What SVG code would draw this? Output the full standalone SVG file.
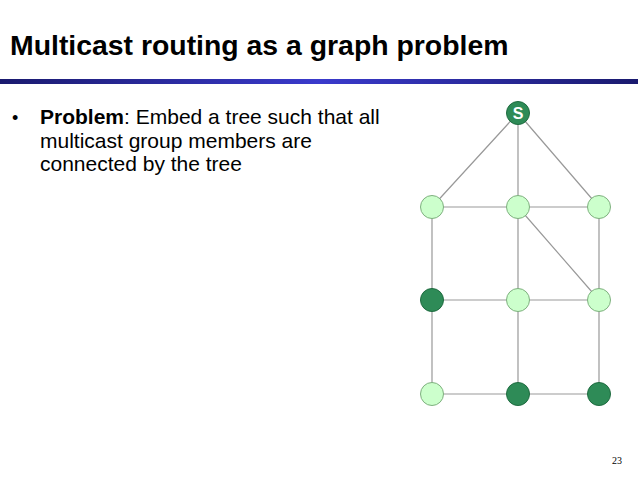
<svg xmlns="http://www.w3.org/2000/svg" width="638" height="478" viewBox="0 0 638 478">
<defs>
<linearGradient id="bar" x1="0" x2="1" y1="0" y2="0">
<stop offset="0" stop-color="#1a1a6e"/><stop offset="0.5" stop-color="#3a3acc"/><stop offset="1" stop-color="#1a1a6e"/>
</linearGradient>
<style>
.e{stroke:#999;stroke-width:1.2;fill:none}
.l{fill:#ccffcc;stroke:#7fb07f;stroke-width:1}
.d{fill:#2e8b57;stroke:#1f6b40;stroke-width:1}
.t{font-family:"Liberation Sans",Arial,sans-serif}
</style>
</defs>
<rect width="638" height="478" fill="#fff"/>
<text class="t" x="10" y="55" font-size="28.4" font-weight="bold">Multicast routing as a graph problem</text>
<rect x="0" y="79" width="638" height="5" fill="url(#bar)"/>
<text class="t" x="12" y="124" font-size="18">•</text>
<text class="t" x="40" y="124" font-size="21"><tspan font-weight="bold">Problem</tspan>: Embed a tree such that all</text>
<text class="t" x="40" y="148" font-size="21">multicast group members are</text>
<text class="t" x="40" y="171" font-size="21">connected by the tree</text>
<g id="edges">
<path class="e" d="M518 113L432 207M518 113V207M518 113L599 207M432 207H599M432 207V394M518 207V394M599 207V394M518 207L599 300M432 300H599M432 394H599"/>
</g>
<g id="S"><circle class="d" cx="518" cy="113" r="11.5"/><text class="t" x="518" y="119" font-size="16" font-weight="bold" fill="#fff" text-anchor="middle">S</text></g>
<g id="n1"><circle class="l" cx="432" cy="207" r="11.5"/></g>
<g id="n2"><circle class="l" cx="518" cy="207" r="11.5"/></g>
<g id="n3"><circle class="l" cx="599" cy="207" r="11.5"/></g>
<g id="n4"><circle class="d" cx="432" cy="300" r="11.5"/></g>
<g id="n5"><circle class="l" cx="518" cy="300" r="11.5"/></g>
<g id="n6"><circle class="l" cx="599" cy="300" r="11.5"/></g>
<g id="n7"><circle class="l" cx="432" cy="394" r="11.5"/></g>
<g id="n8"><circle class="d" cx="518" cy="394" r="11.5"/></g>
<g id="n9"><circle class="d" cx="599" cy="394" r="11.5"/></g>
<text x="622" y="464" font-family="Liberation Serif,serif" font-size="10" text-anchor="end">23</text>
</svg>
